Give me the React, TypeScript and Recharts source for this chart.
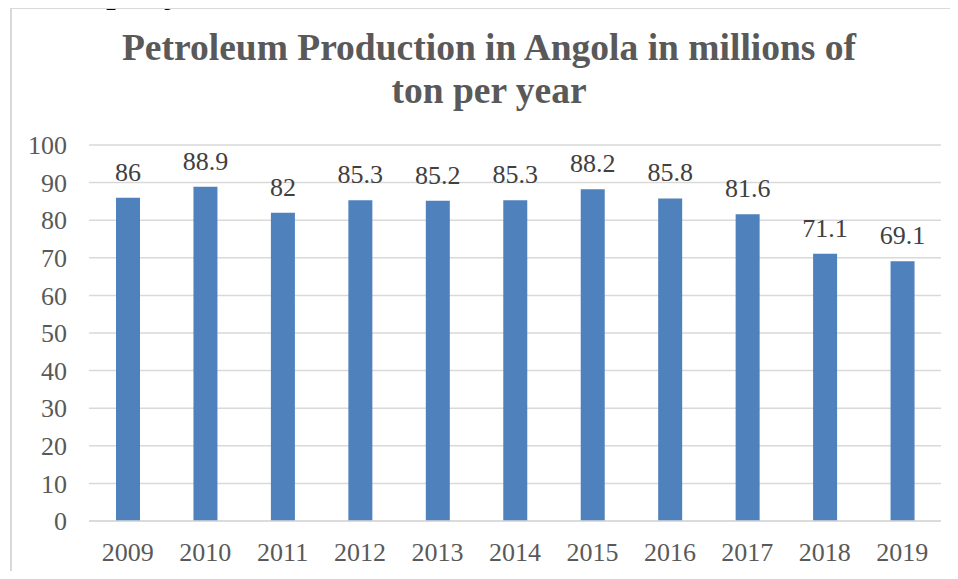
import { BarChart, Bar, XAxis, YAxis, CartesianGrid, LabelList } from 'recharts';

const years = ['2009', '2010', '2011', '2012', '2013', '2014', '2015', '2016', '2017', '2018', '2019'];
const production = [86, 88.9, 82, 85.3, 85.2, 85.3, 88.2, 85.8, 81.6, 71.1, 69.1];
const yTicks = [0, 10, 20, 30, 40, 50, 60, 70, 80, 90, 100];

const data = years.map((year, i) => ({ year, value: production[i] }));

const FONT = '"Liberation Serif", serif';

export default function App() {
    return (
        <div style={{ position: 'relative', width: 958, height: 579, margin: -8, overflow: 'hidden', background: '#fff' }}>
            {/* cut-off text of the page above the chart */}
            <div style={{ position: 'absolute', left: 106, top: -32, fontFamily: FONT, fontSize: 40, color: '#000', lineHeight: '40px' }}>
                pany
            </div>
            <div style={{ position: 'absolute', left: 10, top: 7, width: 1000, height: 640, border: '2px solid #d9d9d9', boxSizing: 'border-box' }} />
            <div
                style={{
                    position: 'absolute',
                    left: 0,
                    top: 26,
                    width: 978,
                    textAlign: 'center',
                    fontFamily: FONT,
                    fontWeight: 'bold',
                    fontSize: 37.5,
                    lineHeight: '43px',
                    color: '#595959',
                }}
            >
                Petroleum Production in Angola in millions of
                <br />
                ton per year
            </div>
            <div style={{ position: 'absolute', left: 0, top: 0 }}>
                <BarChart width={958} height={579} data={data} margin={{ top: 145, right: 17, bottom: 28, left: 29 }}>
                    <CartesianGrid vertical={false} stroke="#d9d9d9" strokeWidth={1.5} />
                    <XAxis
                        dataKey="year"
                        stroke="#d9d9d9"
                        strokeWidth={1.5}
                        tickLine={false}
                        tickMargin={16}
                        tick={{ fill: '#595959', fontSize: 26, fontFamily: FONT }}
                    />
                    <YAxis
                        width={60}
                        domain={[0, 100]}
                        ticks={yTicks}
                        axisLine={false}
                        tickLine={false}
                        tickMargin={16}
                        tick={{ fill: '#595959', fontSize: 26, fontFamily: FONT }}
                    />
                    <Bar dataKey="value" fill="#4f81bd" barSize={24} isAnimationActive={false}>
                        <LabelList dataKey="value" position="top" offset={17} fill="#404040" fontSize={26} fontFamily={FONT} />
                    </Bar>
                </BarChart>
            </div>
        </div>
    );
}
